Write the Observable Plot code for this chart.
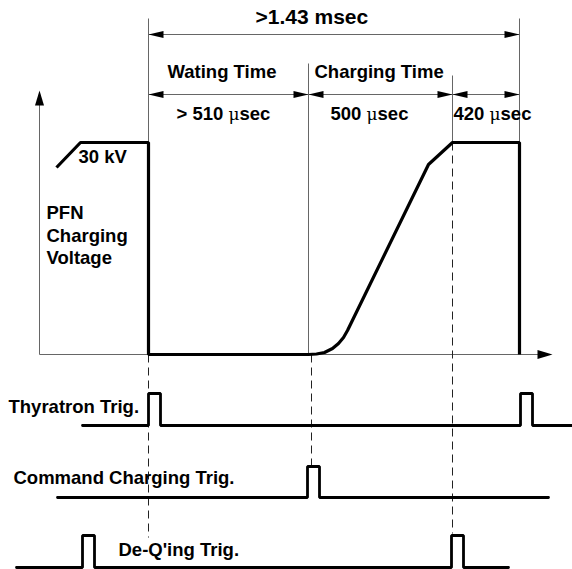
<!DOCTYPE html>
<html>
<head>
<meta charset="utf-8">
<script src="https://cdn.jsdelivr.net/npm/d3@7"></script>
<script src="https://cdn.jsdelivr.net/npm/@observablehq/plot@0.6"></script>
<style>
  html, body { margin: 0; padding: 0; background: #fff; }
  #chart svg { display: block; }
</style>
</head>
<body>
<div id="chart"></div>
<script>
// Diagram coordinates: t = horizontal time position, v = vertical level (0 at top)
// PFN charging voltage waveform
const waveT = [56, 80, 148, 148, 308, 316, 324, 332, 338, 343, 347, 428, 452, 519, 519];
const waveV = [167, 142, 142, 354, 354, 353.5, 352, 348, 343, 337, 330, 164, 142, 142, 354];

// Trigger rows
const thyT = [82, 148, 148, 160, 160, 520, 520, 532, 532, 572];
const thyV = [425, 425, 393, 393, 425, 425, 393, 393, 425, 425];
const cmdT = [57, 307, 307, 319, 319, 548];
const cmdV = [497, 497, 466, 466, 497, 497];
const deqT = [16, 82, 82, 94, 94, 451, 451, 463, 463, 508];
const deqV = [567, 567, 535, 535, 567, 567, 535, 535, 567, 567];

// Thin guide lines (x1,y1,x2,y2)
const guideX1 = [148, 308, 452, 519, 148, 148, 39, 39];
const guideY1 = [18, 63, 75, 18, 34, 94, 354, 354];
const guideX2 = [148, 308, 452, 519, 519, 519, 39, 540];
const guideY2 = [142, 354, 142, 142, 34, 94, 100, 354];

// Dashed markers
const dashX = [148, 311, 452];
const dashTop = [354, 354, 142];
const dashBottom = [537, 466, 533];

// Dimension arrowheads (tip position, direction deg)
const headX = [148, 519, 148, 308, 308, 452, 452, 519];
const headY = [34, 34, 94, 94, 94, 94, 94, 94];
const headDir = [180, 0, 180, 0, 180, 0, 180, 0];

// Axis arrowheads
const axHeadX = [39, 552];
const axHeadY = [90, 354];
const axHeadDir = [-90, 0];

// Labels
const labels = [">1.43 msec", "Wating Time", "> 510 μsec", "Charging Time", "500 μsec", "420 μsec",
  "30 kV", "PFN", "Charging", "Voltage", "Thyratron Trig.", "Command Charging Trig.", "De-Q'ing Trig."];
const labelX = [255, 167, 176, 314, 330, 453, 78, 46, 46, 46, 8, 13, 118];
const labelY = [17, 72, 114, 72, 114, 114, 157, 213, 236, 258, 407, 478, 550];
const labelSize = [21, 18.5, 18.5, 18.5, 18.5, 18.5, 18.5, 18.5, 18.5, 18.5, 18.5, 18.5, 18.5];

const pts = (T, V) => T.map((t, i) => ({t, v: V[i]}));
const guides = guideX1.map((x, i) => ({x1: x, y1: guideY1[i], x2: guideX2[i], y2: guideY2[i]}));
const dashes = dashX.map((x, i) => ({x, y1: dashTop[i], y2: dashBottom[i]}));
const heads = headX.map((x, i) => ({x, y: headY[i], r: headDir[i]}));
const axHeads = axHeadX.map((x, i) => ({x, y: axHeadY[i], r: axHeadDir[i]}));
const texts = labels.map((s, i) => ({s, x: labelX[i], y: labelY[i], size: labelSize[i]}));

function headSymbol(L, w) {
  return {draw(ctx) { ctx.moveTo(0, 0); ctx.lineTo(-L, -w); ctx.lineTo(-L, w); ctx.closePath(); }};
}

const font = "Liberation Sans, Arial, Helvetica, sans-serif";

const plot = Plot.plot({
  width: 572,
  height: 569,
  margin: 0,
  style: {background: "white"},
  x: {domain: [0, 572], range: [0, 572], axis: null},
  y: {domain: [0, 569], range: [0, 569], axis: null},
  marks: [
    Plot.link(guides, {x1: "x1", y1: "y1", x2: "x2", y2: "y2", stroke: "#666", strokeWidth: 1}),
    Plot.link(dashes, {x1: "x", y1: "y1", x2: "x", y2: "y2", stroke: "#222", strokeWidth: 1, strokeDasharray: "8,5"}),
    Plot.line(pts(waveT, waveV), {x: "t", y: "v", stroke: "black", strokeWidth: 3.2, strokeLinejoin: "miter", strokeLinecap: "butt"}),
    Plot.line(pts(thyT, thyV), {x: "t", y: "v", stroke: "black", strokeWidth: 2.8, strokeLinejoin: "miter"}),
    Plot.line(pts(cmdT, cmdV), {x: "t", y: "v", stroke: "black", strokeWidth: 2.8, strokeLinejoin: "miter"}),
    Plot.line(pts(deqT, deqV), {x: "t", y: "v", stroke: "black", strokeWidth: 2.8, strokeLinejoin: "miter"}),
    Plot.dot(heads, {x: "x", y: "y", rotate: "r", symbol: headSymbol(15, 3.5), fill: "black", stroke: "none"}),
    Plot.dot(axHeads, {x: "x", y: "y", rotate: "r", symbol: headSymbol(15, 4.5), fill: "black", stroke: "none"}),
    Plot.text(texts, {x: "x", y: "y", text: "s", fontSize: "size", textAnchor: "start", lineAnchor: "middle",
      fill: "black", fontWeight: "bold", fontFamily: font})
  ]
});

// render μ in a light serif face like the original symbol glyph
d3.select(plot).selectAll("text").each(function() {
  const t = this.textContent;
  const i = t.indexOf("μ");
  if (i < 0 || this.querySelector("tspan")) return;
  const sel = d3.select(this);
  sel.text(null);
  sel.append("tspan").text(t.slice(0, i));
  sel.append("tspan").text("μ").attr("font-weight", "normal").attr("font-family", "DejaVu Serif, Liberation Serif, serif").attr("font-size", "17");
  sel.append("tspan").text(t.slice(i + 1));
});

document.getElementById("chart").appendChild(plot);
</script>
</body>
</html>
